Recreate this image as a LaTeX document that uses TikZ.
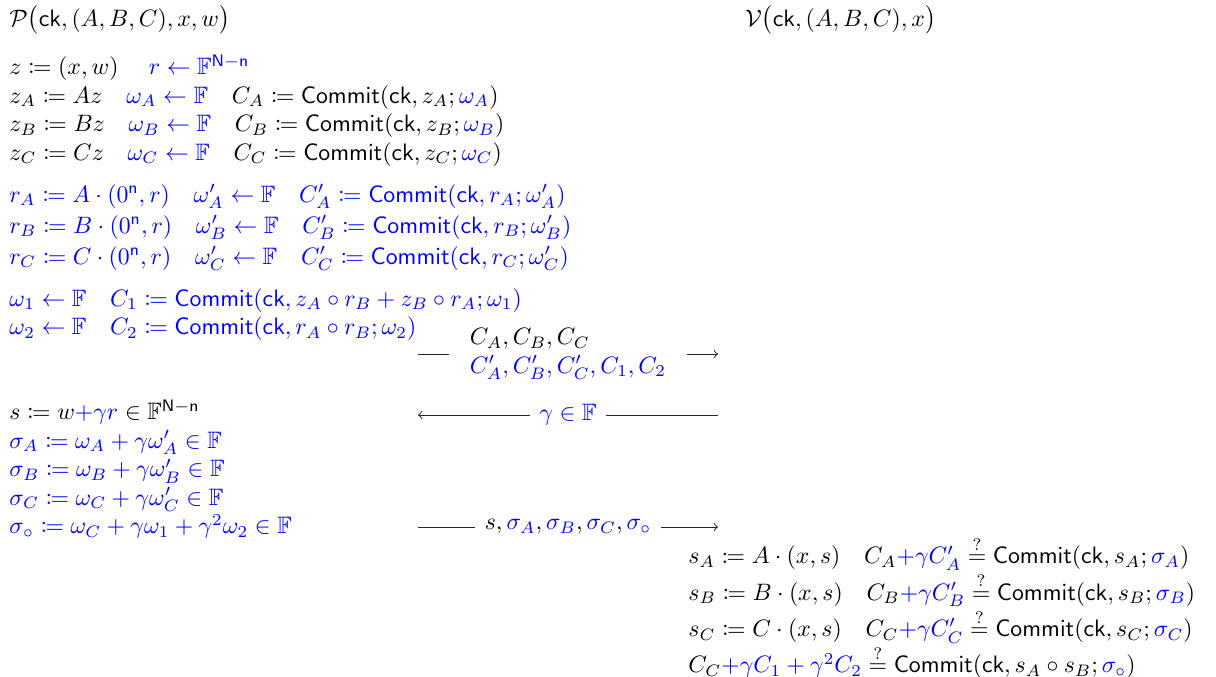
\documentclass[tikz,border=0pt]{standalone}
\usepackage{amssymb}
\usepackage{mathtools}
\usepackage{tikz}

\newcommand{\blu}[1]{{\color{blue}#1}}
\newcommand{\cm}{\mathsf{Commit}}
\newcommand{\ck}{\mathsf{ck}}

\begin{document}
\begin{tikzpicture}[
        >=to,
        x=0.421pt, y=-0.421pt,
        block/.style={inner sep=0pt, anchor=north west, align=left},
        title/.style={inner sep=0pt, anchor=base west},
        msg/.style={->, color=black!85},
        lbl/.style={fill=white, inner ysep=1pt, inner xsep=4pt, text=black}
    ]
    \useasboundingbox (0,0) rectangle (1216,676);

    % --- Prover ---
    \node[title] (ptitle) at (9,26) {$\mathcal{P}\bigl(\ck, (A,B,C), x, w\bigr)$};

    \node[block] (pwit) at (9,54) {
        $z \coloneqq (x,w)$\quad\;$\blu{r \leftarrow \mathbb{F}^{\mathsf{N}-\mathsf{n}}}$\\
        $z_A \coloneqq Az$\quad$\blu{\omega_A \leftarrow \mathbb{F}}$\quad$C_A \coloneqq \cm(\ck, z_A; \blu{\omega_A})$\\
        $z_B \coloneqq Bz$\quad$\blu{\omega_B \leftarrow \mathbb{F}}$\quad$C_B \coloneqq \cm(\ck, z_B; \blu{\omega_B})$\\
        $z_C \coloneqq Cz$\quad$\blu{\omega_C \leftarrow \mathbb{F}}$\quad$C_C \coloneqq \cm(\ck, z_C; \blu{\omega_C})$
    };

    \node[block, text=blue] (prand) at (9,184) {
        $r_A \coloneqq A\cdot(0^{\mathsf{n}}, r)$\quad$\omega'_A \leftarrow \mathbb{F}$\quad$C'_A \coloneqq \cm(\ck, r_A; \omega'_A)$\\[1pt]
        $r_B \coloneqq B\cdot(0^{\mathsf{n}}, r)$\quad$\omega'_B \leftarrow \mathbb{F}$\quad$C'_B \coloneqq \cm(\ck, r_B; \omega'_B)$\\[1pt]
        $r_C \coloneqq C\cdot(0^{\mathsf{n}}, r)$\quad$\omega'_C \leftarrow \mathbb{F}$\quad$C'_C \coloneqq \cm(\ck, r_C; \omega'_C)$
    };

    \node[block, text=blue] (pcross) at (9,288) {
        $\omega_1 \leftarrow \mathbb{F}$\quad$C_1 \coloneqq \cm(\ck, z_A \circ r_B + z_B \circ r_A; \omega_1)$\\
        $\omega_2 \leftarrow \mathbb{F}$\quad$C_2 \coloneqq \cm(\ck, r_A \circ r_B; \omega_2)$
    };

    \node[block] (presp) at (9,399) {
        $s \coloneqq w\blu{+\gamma r} \in \mathbb{F}^{\mathsf{N}-\mathsf{n}}$\\
        $\blu{\sigma_A \coloneqq \omega_A + \gamma\omega'_A \in \mathbb{F}}$\\
        $\blu{\sigma_B \coloneqq \omega_B + \gamma\omega'_B \in \mathbb{F}}$\\
        $\blu{\sigma_C \coloneqq \omega_C + \gamma\omega'_C \in \mathbb{F}}$\\
        $\blu{\sigma_\circ \coloneqq \omega_C + \gamma\omega_1 + \gamma^2\omega_2 \in \mathbb{F}}$
    };

    % --- Verifier ---
    \node[title] (vtitle) at (745,26) {$\mathcal{V}\bigl(\ck, (A,B,C), x\bigr)$};

    \node[block] (vcheck) at (688,536) {
        $s_A \coloneqq A\cdot(x,s)$\quad$C_A\blu{+\gamma C'_A} \stackrel{?}{=} \cm(\ck, s_A; \blu{\sigma_A})$\\
        $s_B \coloneqq B\cdot(x,s)$\quad$C_B\blu{+\gamma C'_B} \stackrel{?}{=} \cm(\ck, s_B; \blu{\sigma_B})$\\
        $s_C \coloneqq C\cdot(x,s)$\quad$C_C\blu{+\gamma C'_C} \stackrel{?}{=} \cm(\ck, s_C; \blu{\sigma_C})$\\
        $C_C\blu{+\gamma C_1 + \gamma^2 C_2} \stackrel{?}{=} \cm(\ck, s_A \circ s_B; \blu{\sigma_\circ})$
    };

    % --- Messages ---
    \coordinate (m1a) at (418,354);
    \coordinate (m1b) at (718,354);
    \coordinate (m2a) at (418,415);
    \coordinate (m2b) at (718,415);
    \coordinate (m3a) at (418,527);
    \coordinate (m3b) at (718,527);

    \draw[msg] (m1a) -- node[lbl, inner xsep=9pt, align=left] (m1) {
        $C_A, C_B, C_C$\\
        $\blu{C'_A, C'_B, C'_C, C_1, C_2}$} (m1b);
    \draw[msg] (m2b) -- node[lbl] (m2) {$\blu{\gamma \in \mathbb{F}}$} (m2a);
    \draw[msg] (m3a) -- node[lbl] (m3) {$s, \blu{\sigma_A}, \blu{\sigma_B}, \blu{\sigma_C}, \blu{\sigma_\circ}$} (m3b);

\end{tikzpicture}
\end{document}
